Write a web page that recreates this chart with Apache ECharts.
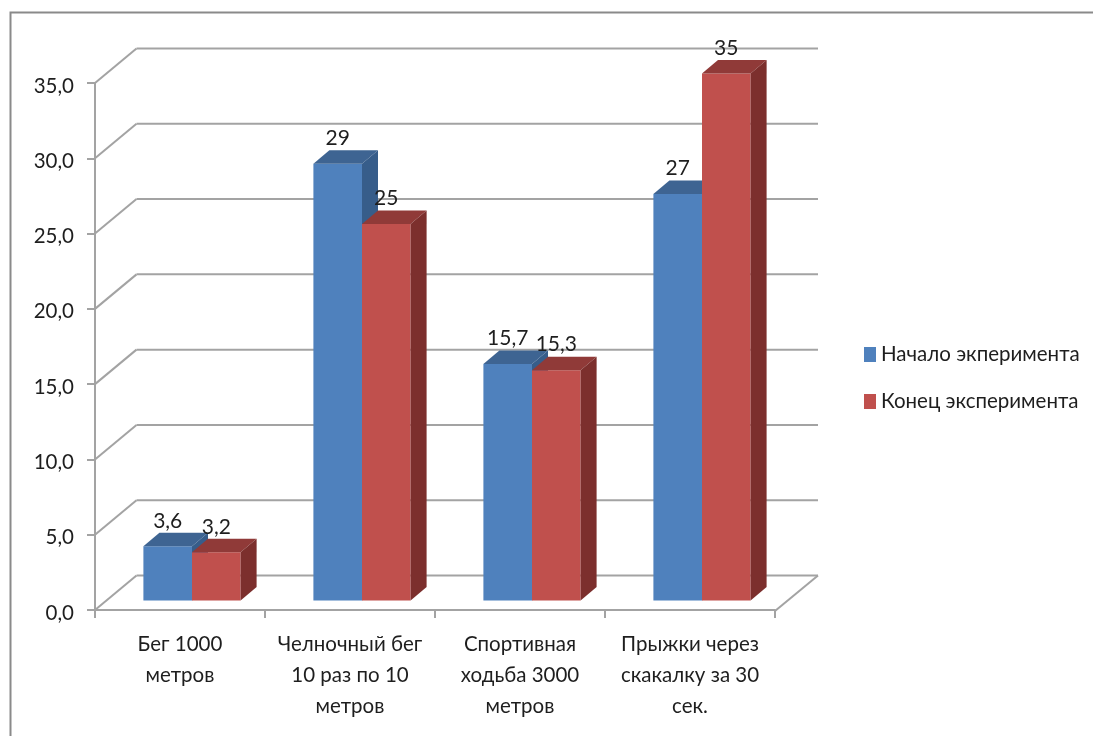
<!DOCTYPE html>
<html><head><meta charset="utf-8">
<style>html,body{margin:0;padding:0;background:#fff}#c{width:1093px;height:736px}</style>
<script src="https://cdn.jsdelivr.net/npm/echarts@6/dist/echarts.min.js"></script>
</head><body><div id="c"></div>
<script>
const categories = ['Бег 1000\nметров','Челночный бег\n10 раз по 10\nметров','Спортивная\nходьба 3000\nметров','Прыжки через\nскакалку за 30\nсек.'];
const startValues = [3.6, 29, 15.7, 27];
const endValues = [3.2, 25, 15.3, 35];
const yTicks = [0, 5, 10, 15, 20, 25, 30, 35];
const seriesNames = ['Начало экперимента', 'Конец эксперимента'];

const FONT = 'Lato, "Open Sans", sans-serif';
const TEXT = '#1e1e1e';
const GRID = '#a3a3a3';
const WALL_DX = 41.5, WALL_DY = 34.5;
const BAR_W = 48.6, BAR_SHIFT = 12, BASE_LIFT = 9.5, DEPTH_X = 16, DEPTH_Y = 13.5;
const PAL = [
  {front:'#4f81bd', top:'#3e6492', side:'#375d8a'},
  {front:'#c0504d', top:'#903a38', side:'#7c2f2d'}
];

function poly(pts, fill){ return {type:'polygon', shape:{points:pts}, style:{fill:fill}}; }
function line(x1,y1,x2,y2){ return {type:'line', shape:{x1,y1,x2,y2}, style:{stroke:GRID, lineWidth:2, fill:null}}; }

function renderWall(params, api){
  const cs = params.coordSys, y = api.coord([0, api.value(0)])[1];
  const x0 = cs.x, x1 = cs.x + cs.width;
  const kids = [
    line(x0, y, x0 + WALL_DX, y - WALL_DY),
    line(x0 + WALL_DX, y - WALL_DY, x1 + WALL_DX + 1.5, y - WALL_DY)
  ];
  if (api.value(0) === 0) kids.push(line(x1, y + 1, x1 + WALL_DX + 1.5, y - WALL_DY));
  return {type:'group', children:kids};
}
function renderBars(si){
  return function(params, api){
    const idx = api.value(0), v = api.value(1);
    const c = api.coord([idx, v]), zero = api.coord([idx, 0]);
    const left = c[0] + BAR_SHIFT + (si === 0 ? -BAR_W : 0), right = left + BAR_W;
    const top = c[1] - BASE_LIFT, bot = zero[1] - BASE_LIFT;
    const p = PAL[si];
    return {type:'group', children:[
      poly([[left,bot],[right,bot],[right,top],[left,top]], p.front),
      poly([[left,top],[right,top],[right+DEPTH_X,top-DEPTH_Y],[left+DEPTH_X,top-DEPTH_Y]], p.top),
      poly([[right,bot],[right+DEPTH_X,bot-DEPTH_Y],[right+DEPTH_X,top-DEPTH_Y],[right,top]], p.side)
    ]};
  };
}
function renderLabels(si){
  return function(params, api){
    const idx = api.value(0), v = api.value(1);
    const c = api.coord([idx, v]);
    const left = c[0] + BAR_SHIFT + (si === 0 ? -BAR_W : 0);
    return {type:'text', style:{
      x: left + BAR_W/2, y: c[1] - 35,
      text: String(v).replace('.', ','),
      fill: TEXT, font: '21px ' + FONT, align:'center', verticalAlign:'middle'
    }};
  };
}
function pairs(arr){ return arr.map((v,i)=>[i,v]); }

const chart = echarts.init(document.getElementById('c'), null, {renderer:'canvas'});
chart.setOption({
  animation:false,
  backgroundColor:'#fff',
  textStyle:{fontFamily:FONT},
  legend:{
    orient:'vertical', left:859, top:339, itemWidth:12, itemHeight:15, itemGap:26, selectedMode:false,
    data:[{name:seriesNames[0], icon:'rect', itemStyle:{color:PAL[0].front}},
          {name:seriesNames[1], icon:'rect', itemStyle:{color:PAL[1].front}}],
    textStyle:{color:TEXT, fontSize:20.5, fontFamily:FONT}
  },
  grid:{left:95, width:680, top:83, height:527, containLabel:false},
  graphic:[{type:'polyline', silent:true, z:-1,
    shape:{points:[[10.5,736],[10.5,12.5],[1093,12.5]]}, style:{stroke:'#8a8a8a', lineWidth:2, fill:null}}],
  xAxis:{type:'category', data:categories,
    axisLine:{lineStyle:{color:GRID, width:2}},
    axisTick:{show:true, length:8, lineStyle:{color:GRID, width:2}},
    axisLabel:{color:TEXT, fontSize:20.5, lineHeight:31, margin:19, interval:0, fontFamily:FONT},
    splitLine:{show:false}},
  yAxis:{type:'value', min:0, max:35, interval:5,
    axisLine:{show:true, lineStyle:{color:GRID, width:2}},
    axisTick:{show:true, length:8, lineStyle:{color:GRID, width:2}},
    axisLabel:{color:TEXT, fontSize:20.5, margin:21, verticalAlign:'top', lineHeight:6, fontFamily:FONT,
      formatter:v=>v.toFixed(1).replace('.', ',')},
    splitLine:{show:false}},
  series:[
    {type:'custom', name:'walls', silent:true, clip:false, z:1, renderItem:renderWall,
      data:yTicks.map(t=>[t]), encode:{y:0}},
    {type:'custom', name:seriesNames[0], silent:true, clip:false, z:2, renderItem:renderBars(0),
      data:pairs(startValues), encode:{x:0,y:1}, itemStyle:{color:PAL[0].front}},
    {type:'custom', name:seriesNames[1], silent:true, clip:false, z:3, renderItem:renderBars(1),
      data:pairs(endValues), encode:{x:0,y:1}, itemStyle:{color:PAL[1].front}},
    {type:'custom', name:'labels0', silent:true, clip:false, z:4, renderItem:renderLabels(0),
      data:pairs(startValues), encode:{x:0,y:1}},
    {type:'custom', name:'labels1', silent:true, clip:false, z:4, renderItem:renderLabels(1),
      data:pairs(endValues), encode:{x:0,y:1}}
  ]
});
</script></body></html>
